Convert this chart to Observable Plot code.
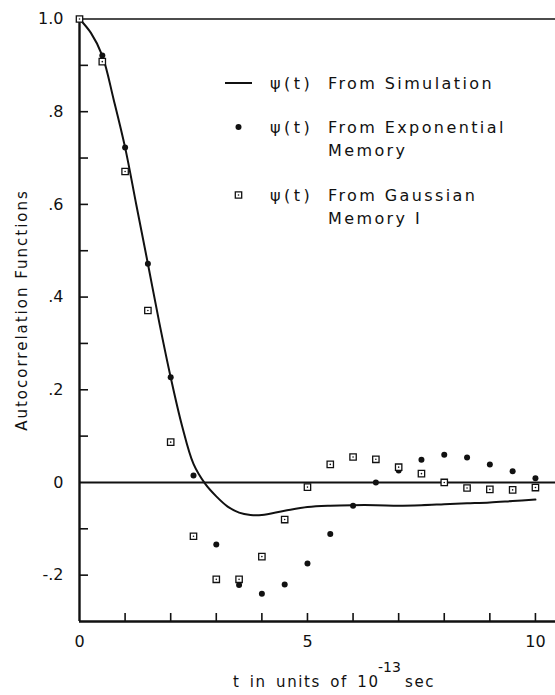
<!DOCTYPE html>
<html><head><meta charset="utf-8">
<script src="https://cdn.jsdelivr.net/npm/d3@7"></script>
<script src="https://cdn.jsdelivr.net/npm/@observablehq/plot@0.6"></script>
<style>
body{margin:0;background:#fff;}
#chart{width:555px;height:695px;position:relative;}
svg text{font-family:"DejaVu Sans",sans-serif;}
</style></head><body><div id="chart"></div>
<script>
// psi(t) from simulation (solid curve)
const tSim   = [0, 0.25, 0.5, 0.75, 1, 1.25, 1.5, 1.75, 2, 2.25, 2.5, 2.75, 3, 3.25, 3.5, 3.75, 4, 4.5, 5, 5.5, 6, 6.5, 7, 7.5, 8, 8.5, 9, 9.5, 10];
const psiSim = [1.0, 0.970, 0.921, 0.826, 0.723, 0.597, 0.472, 0.345, 0.227, 0.122, 0.040, -0.002, -0.030, -0.052, -0.065, -0.070, -0.070, -0.061, -0.053, -0.050, -0.049, -0.049, -0.050, -0.049, -0.047, -0.045, -0.043, -0.040, -0.037];
// psi(t) from exponential memory (filled dots)
const tExp   = [0.5, 1, 1.5, 2, 2.5, 3, 3.5, 4, 4.5, 5, 5.5, 6, 6.5, 7, 7.5, 8, 8.5, 9, 9.5, 10];
const psiExp = [0.921, 0.723, 0.472, 0.227, 0.015, -0.134, -0.221, -0.240, -0.220, -0.175, -0.111, -0.050, 0.0, 0.026, 0.049, 0.060, 0.054, 0.039, 0.024, 0.009];
// psi(t) from Gaussian memory I (open squares)
const tGauss   = [0, 0.5, 1, 1.5, 2, 2.5, 3, 3.5, 4, 4.5, 5, 5.5, 6, 6.5, 7, 7.5, 8, 8.5, 9, 9.5, 10];
const psiGauss = [1.0, 0.908, 0.671, 0.371, 0.087, -0.116, -0.209, -0.209, -0.160, -0.080, -0.010, 0.039, 0.055, 0.050, 0.033, 0.019, 0.0, -0.012, -0.015, -0.016, -0.011];

const xTickValues = [1, 2, 3, 4, 5, 6, 7, 8, 9, 10];
const xTickLabels = [0, 5, 10];
const yMinorTicks = [-0.2, -0.1, 0.1, 0.2, 0.3, 0.4, 0.5, 0.6, 0.7, 0.8, 0.9];
const yTickLabels = [1.0, 0.8, 0.6, 0.4, 0.2, 0, -0.2];
const yTickText   = ["1.0", ".8", ".6", ".4", ".2", "0", "-.2"];
const legendText  = [["From Simulation"], ["From Exponential", "Memory"], ["From Gaussian", "Memory I"]];
const yTitle = "Autocorrelation Functions";
const xTitleMain = "t in units of 10", xTitleSup = "-13", xTitleEnd = "sec";

const sim   = tSim.map((t, i) => ({t, v: psiSim[i]}));
const expo  = tExp.map((t, i) => ({t, v: psiExp[i]}));
const gauss = tGauss.map((t, i) => ({t, v: psiGauss[i]}));

const W = 555, H = 695, ML = 79, MR = 0, MT = 18.5, MB = 74;
const plot = Plot.plot({
  width: W, height: H, marginLeft: ML, marginRight: MR, marginTop: MT, marginBottom: MB,
  x: {domain: [0, 10.44], axis: null},
  y: {domain: [-0.3, 1.0], axis: null},
  style: {background: "white", fontFamily: "DejaVu Sans", fontSize: "16px", color: "black"},
  marks: [
    Plot.ruleY([0], {y: d => d, stroke: "#111", strokeWidth: 2}),
    Plot.ruleY([1], {y: d => d, stroke: "#111", strokeWidth: 1.6}),
    Plot.ruleY([-0.3], {y: d => d, stroke: "#111", strokeWidth: 2.4}),
    Plot.ruleX([0], {x: d => d, stroke: "#111", strokeWidth: 2.4}),
    Plot.tickY(yMinorTicks, {y: d => d, insetRight: (W - ML - MR) - 9, stroke: "#111", strokeWidth: 1.6}),
    Plot.tickX(xTickValues, {x: d => d, insetTop: (H - MT - MB) - 8, stroke: "#111", strokeWidth: 1.6}),
    Plot.text(yTickLabels, {x: 0, y: d => d, text: (d, i) => yTickText[i], textAnchor: "end", dx: -16, fontSize: 16, fill: "#111"}),
    Plot.text(xTickLabels, {x: d => d, y: -0.3, text: d => String(d), dy: 20, fontSize: 16, fill: "#111"}),
    Plot.line(sim, {x: "t", y: "v", curve: "catmull-rom", stroke: "#111", strokeWidth: 2}),
    Plot.dot(expo, {x: "t", y: "v", r: 3, fill: "#111", stroke: null}),
    Plot.dot(gauss, {x: "t", y: "v", symbol: "square", r: 3.6, fill: "white", stroke: "#111", strokeWidth: 1.3}),
    Plot.dot(gauss, {x: "t", y: "v", r: 0.8, fill: "#111", stroke: null})
  ]
});
document.getElementById("chart").appendChild(plot);

// legend, axis titles
const svg = d3.select(plot);
const lg = svg.append("g").attr("fill", "#111").attr("font-size", 16).attr("text-anchor", "start");
const rows = [83, 127, 195];
lg.append("line").attr("x1", 225).attr("x2", 252).attr("y1", rows[0]).attr("y2", rows[0]).attr("stroke", "#111").attr("stroke-width", 2);
lg.append("circle").attr("cx", 238.5).attr("cy", rows[1]).attr("r", 3);
lg.append("path").attr("d", d3.symbol(d3.symbolSquare, 3.6 * 3.6 * Math.PI)()).attr("transform", `translate(238.5,${rows[2]})`).attr("fill", "white").attr("stroke", "#111").attr("stroke-width", 1.3);
lg.append("circle").attr("cx", 238.5).attr("cy", rows[2]).attr("r", 0.8);
legendText.forEach((lines, i) => {
  lg.append("text").attr("x", 270).attr("y", rows[i] + 6).attr("letter-spacing", "3.5px").text("ψ(t)");
  lines.forEach((s, j) => {
    lg.append("text").attr("x", 328).attr("y", rows[i] + 6 + j * 23).attr("letter-spacing", "2.4px").text(s);
  });
});

svg.append("text").attr("transform", "translate(27,310) rotate(-90)").attr("text-anchor", "middle")
  .attr("font-size", 15).attr("letter-spacing", "2px").attr("fill", "#111").text(yTitle);

const xt = svg.append("text").attr("x", 233).attr("y", 687).attr("text-anchor", "start").attr("font-size", 15).attr("fill", "#111").attr("letter-spacing", "1.6px").attr("word-spacing", "3px");
xt.append("tspan").text(xTitleMain);
xt.append("tspan").attr("x", 378).attr("dy", -15).attr("font-size", 14).attr("letter-spacing", "0px").text(xTitleSup);
xt.append("tspan").attr("x", 405).attr("dy", 15).text(xTitleEnd);
</script>
</body></html>
